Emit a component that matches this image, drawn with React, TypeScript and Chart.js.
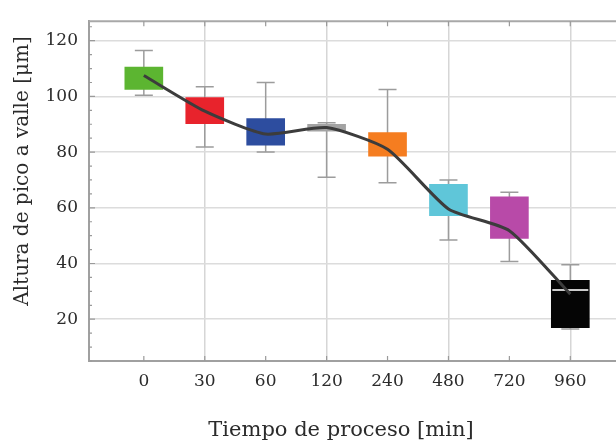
import React, { useEffect, useRef } from "react";
import { Chart, registerables } from "chart.js";
Chart.register(...registerables);

const categories = ["0", "30", "60", "120", "240", "480", "720", "960"];
const whiskerLow = [100.4, 81.8, 80, 71, 69, 48.4, 40.7, 16.5];
const boxLow = [102.5, 90.2, 82.5, 87.5, 78.5, 57.2, 49, 17];
const boxHigh = [110.5, 99.6, 92, 90, 87, 68.4, 63.9, 34];
const whiskerHigh = [116.5, 103.5, 105, 90.5, 102.5, 70, 65.6, 39.6];
const medians = [107.5, 95, 86.5, 88.8, 81, 59.6, 51.8, 30.5];
const means = [107.5, 94.7, 86.5, 88.8, 81, 59.6, 51.8, 29];
const yTicks = [20, 40, 60, 80, 100, 120];

const boxColors = ["#5cb531", "#e8232c", "#2d4d9f", "#a3a3a3", "#f57d20", "#5fc6d9", "#b84aa8", "#050505"];
const medianColors = ["rgba(0,0,0,0)", "rgba(0,0,0,0)", "rgba(0,0,0,0)", "rgba(0,0,0,0)", "rgba(0,0,0,0)", "rgba(0,0,0,0)", "rgba(0,0,0,0)", "rgba(215,215,215,0.95)"];
const FONT = "'DejaVu Serif', 'Liberation Serif', serif";

const decor = {
  id: "decor",
  beforeDatasetsDraw(chart: any) {
    const { ctx, scales } = chart;
    const x = scales.x, y = scales.y;
    ctx.save();
    ctx.strokeStyle = "#9c9c9c";
    ctx.lineWidth = 1.5;
    categories.forEach((_, i) => {
      const cx = x.getPixelForValue(i);
      const yl = y.getPixelForValue(whiskerLow[i]);
      const yh = y.getPixelForValue(whiskerHigh[i]);
      ctx.beginPath();
      ctx.moveTo(cx, yl); ctx.lineTo(cx, yh);
      ctx.moveTo(cx - 9, yl); ctx.lineTo(cx + 9, yl);
      ctx.moveTo(cx - 9, yh); ctx.lineTo(cx + 9, yh);
      ctx.stroke();
    });
    ctx.restore();
  },
  afterDatasetDraw(chart: any, args: any) {
    if (args.index !== 0) return;
    const { ctx, scales } = chart;
    const x = scales.x, y = scales.y;
    ctx.save();
    ctx.lineWidth = 2;
    categories.forEach((_, i) => {
      const cx = x.getPixelForValue(i);
      const ym = y.getPixelForValue(medians[i]);
      ctx.strokeStyle = medianColors[i];
      ctx.beginPath();
      ctx.moveTo(cx - 18, ym); ctx.lineTo(cx + 18, ym);
      ctx.stroke();
    });
    ctx.restore();
  },
  afterDraw(chart: any) {
    const { ctx, chartArea, scales } = chart;
    const x = scales.x, y = scales.y;
    ctx.save();
    ctx.strokeStyle = "#a8a8a8";
    ctx.lineWidth = 2;
    ctx.beginPath();
    ctx.moveTo(chartArea.left, chartArea.top);
    ctx.lineTo(chartArea.right, chartArea.top);
    ctx.stroke();
    ctx.strokeStyle = "#9a9a9a";
    ctx.lineWidth = 1.2;
    ctx.beginPath();
    for (let v = 5; v <= 125; v += 5) {
      const py = y.getPixelForValue(v);
      const len = v % 20 === 0 ? 6 : 3;
      ctx.moveTo(chartArea.left, py); ctx.lineTo(chartArea.left + len, py);
    }
    categories.forEach((_, i) => {
      const px = x.getPixelForValue(i);
      ctx.moveTo(px, chartArea.top); ctx.lineTo(px, chartArea.top + 5);
      ctx.moveTo(px, chartArea.bottom); ctx.lineTo(px, chartArea.bottom - 5);
    });
    ctx.stroke();
    ctx.fillStyle = "#2b2b2b";
    ctx.textAlign = "center";
    ctx.textBaseline = "middle";
    ctx.font = "21px " + FONT;
    ctx.fillText("Tiempo de proceso [min]", 341, 431);
    ctx.translate(23, 171);
    ctx.rotate(-Math.PI / 2);
    ctx.font = "20px " + FONT;
    ctx.fillText("Altura de pico a valle [μm]", 0, 0);
    ctx.restore();
  },
};

export default function App() {
  const ref = useRef<HTMLCanvasElement>(null);
  useEffect(() => {
    if (!ref.current) return;
    const chart = new Chart(ref.current, {
      type: "bar",
      data: {
        datasets: [
          {
            type: "bar",
            data: categories.map((_, i) => ({ x: i, y: [boxLow[i], boxHigh[i]] })) as any,
            backgroundColor: boxColors,
            borderWidth: 0,
            barThickness: 38,
            order: 1,
          } as any,
          {
            type: "line",
            data: categories.map((_, i) => ({ x: i, y: means[i] })),
            borderColor: "#3c3c3c",
            borderWidth: 3,
            pointRadius: 0,
            tension: 0.2,
            order: 0,
          } as any,
        ],
      },
      options: {
        animation: false,
        responsive: true,
        maintainAspectRatio: false,
        layout: { padding: { top: 13, right: 0, left: 0, bottom: 0 } },
        plugins: { legend: { display: false }, tooltip: { enabled: false } },
        scales: {
          x: {
            type: "linear",
            min: -0.9,
            max: 7.75,
            offset: false,
            afterBuildTicks: (s: any) => { s.ticks = categories.map((_, i) => ({ value: i })); },
            afterFit: (s: any) => { s.height = 87; },
            ticks: {
              callback: (v: any) => categories[v] ?? "",
              font: { family: FONT, size: 17 },
              color: "#2b2b2b",
              padding: 10,
              maxRotation: 0,
            },
            grid: {
              offset: false,
              drawTicks: false,
              color: (c: any) => (c.tick && c.tick.value % 2 === 1 ? "#d6d6d6" : "rgba(0,0,0,0)"),
              lineWidth: 1.5,
            },
            border: { display: true, color: "#a0a0a0", width: 2 },
          },
          y: {
            type: "linear",
            min: 5,
            max: 127,
            afterBuildTicks: (s: any) => { s.ticks = yTicks.map((v) => ({ value: v })); },
            afterFit: (s: any) => { s.width = 89; },
            ticks: {
              font: { family: FONT, size: 17 },
              color: "#2b2b2b",
              padding: 11,
            },
            grid: { drawTicks: false, color: "#dcdcdc", lineWidth: 1.5 },
            border: { display: true, color: "#a0a0a0", width: 2 },
          },
        },
      },
      plugins: [decor],
    } as any);
    return () => chart.destroy();
  }, []);
  return (
    <div style={{ position: "absolute", left: 0, top: 0, width: 616, height: 448, background: "#fff" }}>
      <canvas ref={ref} />
    </div>
  );
}
